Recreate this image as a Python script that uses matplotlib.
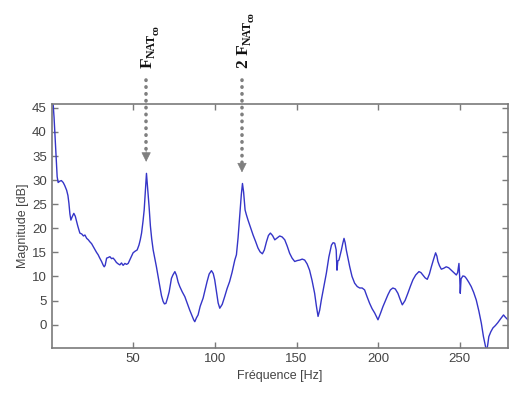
import matplotlib
matplotlib.use("Agg")
import matplotlib.pyplot as plt
from matplotlib.transforms import offset_copy

# spectrum
freq = [0.5, 1, 1.5, 2, 2.7, 3.4, 4, 5.1, 6, 7.1, 8, 9.2, 10, 10.6, 11.2, 11.8, 12.5, 13.6, 14.5, 15.3,
        16, 17.3, 18.5, 19.5, 20.4, 21.5, 22.5, 23.4, 24.5, 25.5, 26.5, 27.5, 28.5, 29.5, 30.6, 31.5,
        32.2, 32.8, 33.7, 34.5, 35.7, 36.7, 37.7, 38.7, 39.7, 40.8, 41.8, 42.8, 43.8, 44.9, 45.9, 46.9,
        48, 49.9, 51, 52.4, 53.5, 54.3, 55.1, 56, 56.7, 57.4, 58.1, 58.8, 59.7, 60.5, 61.3, 62.2, 63.2,
        64.2, 65.2, 66.3, 67.3, 68.3, 69.1, 70, 71, 72, 73.4, 74.3, 75.5, 76.5, 77.5, 78.5, 80, 81.6,
        83, 84.6, 86, 87, 87.7, 88.7, 89.7, 91, 92.8, 94, 95.2, 96.5, 97.9, 99, 99.9, 101, 102, 103,
        104.5, 106, 107.5, 109, 110.5, 112.2, 113.2, 114.2, 115.2, 116.2, 116.9, 117.6, 118.5, 119.3,
        120.3, 121.8, 123.4, 125, 126.4, 127.7, 129.1, 130.3, 131.6, 132.8, 134, 135.3, 136.7, 138.2,
        139.7, 141.2, 142.8, 144.3, 145.8, 147.3, 148.9, 150.5, 152, 153.5, 155, 156.5, 158, 159.5,
        161.1, 162.2, 163.2, 164.2, 165.2, 166.8, 168.3, 169.8, 171.4, 172.4, 173.4, 174.3, 174.8,
        175.3, 176, 177.5, 178.3, 179.1, 179.8, 180.5, 181.5, 182.6, 184, 185.6, 187.2, 188.7, 190.2,
        191.7, 193.2, 194.8, 196.3, 197.9, 199.9, 201.4, 202.9, 204.5, 206, 207.5, 209, 210.5, 212.1,
        213.5, 214.8, 216.5, 218.2, 219.8, 221.3, 223, 225, 226.2, 227.4, 228.8, 230.1, 231.4, 232.6,
        233.9, 235.2, 236, 236.6, 237.6, 238.7, 240.2, 241.7, 243.2, 244.8, 246.3, 247.9, 248.7, 249.5,
        250, 250.3, 250.8, 251.9, 253, 254, 255.5, 257, 258.5, 260.1, 261.7, 263.2, 264.5, 265.8, 266.5,
        267.2, 267.8, 269, 270.3, 271.8, 273.3, 275, 276.8, 278, 279.5, 280]
mag = [46, 45.5, 43, 39.7, 35, 30.7, 29.5, 29.8, 29.9, 29.5, 28.9, 27.9, 26.8, 25.2, 23, 21.7, 22.3, 23.1, 22.5, 21.4,
       20.5, 19.0, 18.8, 18.4, 18.6, 17.9, 17.6, 17.2, 16.8, 16.2, 15.6, 15.0, 14.5, 13.8, 13.1, 12.4,
       12.0, 12.3, 13.8, 13.9, 14.1, 13.7, 13.8, 13.4, 12.9, 12.6, 12.4, 12.8, 12.3, 12.7, 12.5, 12.7,
       13.5, 14.9, 15.2, 15.5, 16.5, 17.6, 19.0, 21.5, 23.8, 27.5, 31.4, 28.5, 24.5, 20.5, 17.8, 15.5, 13.8,
       12.0, 10.0, 7.9, 6.0, 4.8, 4.3, 4.4, 5.5, 6.8, 9.6, 10.3, 11.0, 10.2, 8.8, 7.9, 6.8, 5.8,
       4.5, 3.0, 1.8, 1.0, 0.6, 1.4, 2.0, 3.8, 5.5, 7.2, 8.9, 10.5, 11.2, 10.6, 9.3, 6.8, 4.5, 3.4,
       4.2, 5.8, 7.5, 8.9, 10.8, 13.4, 14.5, 18.0, 22.4, 27.0, 29.3, 27.5, 23.8, 22.8,
       21.7, 20.2, 18.6, 17.2, 15.9, 15.1, 14.7, 15.5, 17.2, 18.5, 19.0, 18.5, 17.6, 18.0,
       18.4, 18.2, 17.6, 16.3, 14.8, 13.8, 13.1, 13.3, 13.4, 13.6, 13.4, 12.6, 11.3, 9.2,
       6.5, 3.8, 1.7, 3.0, 5.1, 8.0, 10.7, 14.0, 16.5, 17.0, 16.9, 15.5, 11.3,
       13.2, 13.4, 15.5, 16.8, 17.9, 17.0, 15.5, 13.8, 12.0, 10.0, 8.6, 7.9, 7.6, 7.6,
       7.2, 5.8, 4.4, 3.3, 2.4, 1.0, 2.3, 3.7, 5.0, 6.2, 7.2, 7.6, 7.4, 6.5,
       5.2, 4.1, 5.0, 6.5, 8.0, 9.3, 10.3, 11.0, 10.8, 10.3, 9.7, 9.4, 10.5, 12.0,
       13.5, 14.9, 14.2, 13.1, 12.2, 11.5, 11.7, 12.0, 11.8, 11.3, 10.8, 10.3, 10.8, 12.7,
       9.5, 6.5, 9.5, 10.1, 10.0, 9.6, 8.8, 7.9, 6.7, 5.1, 2.8, 0.3, -2.5, -4.6, -5.5,
       -4.0, -2.5, -1.5, -0.7, -0.2, 0.4, 1.2, 2.0, 1.5, 1.0, 0.8]

peak_freq = [57.9, 116.6]
arrow_tip = [33.8, 31.6]
peak_prefix = ['', '2 ']

plt.rcParams['font.family'] = 'Liberation Sans'

fig = plt.figure(figsize=(5.11, 3.94), dpi=100)
ax = fig.add_axes([0.101, 0.1175, 0.893, 0.6185])

ax.plot(freq, mag, color='#3535c8', linewidth=1.0)

ax.set_xlim(0, 279.5)
ax.set_ylim(-4.8, 45.8)
ax.set_xticks([50, 100, 150, 200, 250])
ax.set_yticks(range(0, 46, 5))
ax.tick_params(direction='in', top=True, right=True, length=4, width=1,
               color='#7a7a7a', labelcolor='#444444', labelsize=9.5)
for sp in ax.spines.values():
    sp.set_color('#7a7a7a')
    sp.set_linewidth(1.2)

ax.set_xlabel('Fréquence [Hz]', color='#444444', fontsize=9)
ax.set_ylabel('Magnitude [dB]', color='#444444', fontsize=9, labelpad=2)

renderer = fig.canvas.get_renderer()
for f, tip, pre in zip(peak_freq, arrow_tip, peak_prefix):
    # dotted shaft, starts above the axes
    ax.plot([f, f], [50.8, tip + 1.8], color='#7f7f7f', linewidth=2.6,
            linestyle=(0, (0.1, 1.8)), dash_capstyle='round', clip_on=False)
    # arrow head
    ax.annotate('', xy=(f, tip), xytext=(f, tip + 2.4),
                arrowprops=dict(arrowstyle='-|>', color='#7f7f7f', linewidth=0.5,
                                mutation_scale=15, shrinkA=0, shrinkB=0))
    # label F_NAT_co, built piece by piece so the subscripts stay readable
    pieces = [(pre + 'F', 12.5, 0, 0.5), ('NAT', 8.5, 3, 1.5), ('co', 7.5, 6, 0)]
    dy = 0
    base = ax.get_xaxis_transform()
    for s, size, shift, gap in pieces:
        tr = offset_copy(base, fig=fig, x=6 + shift, y=dy, units='dots')
        t = ax.text(f, 1.148, s, transform=tr, rotation=90, rotation_mode='anchor',
                    ha='left', va='baseline', fontsize=size, fontweight='bold',
                    family='Liberation Serif', color='#111111')
        dy += t.get_window_extent(renderer).height - gap

fig.savefig('out.png', dpi=100)
